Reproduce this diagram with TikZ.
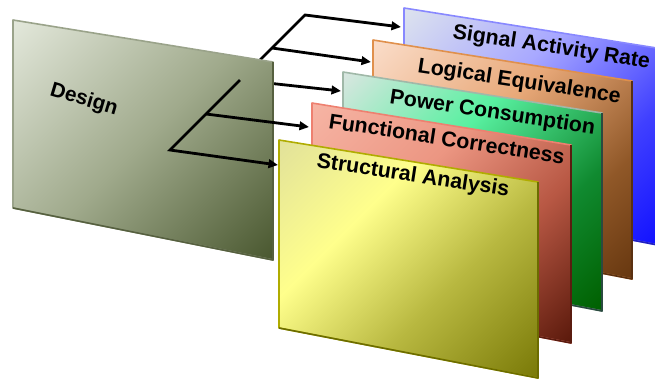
\documentclass[tikz,border=0pt]{standalone}
\usepackage{fontspec}
\setmainfont{Liberation Sans}
\usetikzlibrary{arrows.meta}
% design panel
\definecolor{dD}{HTML}{4A5830}\definecolor{dM}{HTML}{A0AA8C}\definecolor{dL}{HTML}{E2E7DA}
\definecolor{dA}{HTML}{9AA38A}\definecolor{dB}{HTML}{56603F}
% yellow
\definecolor{yD}{HTML}{7A7A08}\definecolor{yM}{HTML}{B8B840}\definecolor{yH}{HTML}{FFFF8C}\definecolor{yL}{HTML}{E2E29A}
\definecolor{yA}{HTML}{B0AC00}\definecolor{yB}{HTML}{6C6C00}
% red
\definecolor{rD}{HTML}{5C1A0C}\definecolor{rM}{HTML}{B85844}\definecolor{rH}{HTML}{EC9682}\definecolor{rL}{HTML}{F6B4A4}
\definecolor{rA}{HTML}{EE8070}\definecolor{rB}{HTML}{5A1C10}
% green
\definecolor{gD}{HTML}{006000}\definecolor{gM}{HTML}{108A30}\definecolor{gH}{HTML}{58F0A0}\definecolor{gL}{HTML}{D8E6E0}
\definecolor{gA}{HTML}{A0B8A8}\definecolor{gB}{HTML}{2A4A40}
% orange
\definecolor{oD}{HTML}{683810}\definecolor{oM}{HTML}{905828}\definecolor{oH}{HTML}{E8A878}\definecolor{oL}{HTML}{FADCC8}
\definecolor{oA}{HTML}{E0904C}\definecolor{oB}{HTML}{5A3010}
% blue
\definecolor{bD}{HTML}{1010FF}\definecolor{bM}{HTML}{4040FF}\definecolor{bH}{HTML}{A8A8FF}\definecolor{bL}{HTML}{DCE2EE}
\definecolor{bA}{HTML}{8888FF}\definecolor{bB}{HTML}{2020C0}

\pgfdeclareverticalshading{dshade}{100bp}{color(0bp)=(dD); color(15bp)=(dD); color(50bp)=(dM); color(85bp)=(dL); color(100bp)=(dL)}
\pgfdeclareverticalshading{yshade}{100bp}{color(0bp)=(yD); color(15bp)=(yD); color(40bp)=(yM); color(63bp)=(yH); color(85bp)=(yL); color(100bp)=(yL)}
\pgfdeclareverticalshading{rshade}{100bp}{color(0bp)=(rD); color(15bp)=(rD); color(38bp)=(rM); color(60bp)=(rH); color(85bp)=(rL); color(100bp)=(rL)}
\pgfdeclareverticalshading{gshade}{100bp}{color(0bp)=(gD); color(15bp)=(gD); color(35bp)=(gM); color(60bp)=(gH); color(85bp)=(gL); color(100bp)=(gL)}
\pgfdeclareverticalshading{oshade}{100bp}{color(0bp)=(oD); color(15bp)=(oD); color(32bp)=(oM); color(57bp)=(oH); color(85bp)=(oL); color(100bp)=(oL)}
\pgfdeclareverticalshading{bshade}{100bp}{color(0bp)=(bD); color(15bp)=(bD); color(35bp)=(bM); color(60bp)=(bH); color(85bp)=(bL); color(100bp)=(bL)}

\begin{document}
\begin{tikzpicture}[x=1pt,y=-1pt,
  edge/.style={line width=1.6pt, line join=round},
  link/.style={line width=2.8pt, black, line join=miter},
  linkarrow/.style={link, -{Triangle[length=9.5pt,width=8.5pt]}},
  lbl/.style={font=\fontsize{21.3}{24}\selectfont\bfseries, anchor=base west, rotate=-8.7, inner sep=0pt}
]
\useasboundingbox (0,0) rectangle (655,381);
\begin{scope}
\clip (0,0) rectangle (655,381);

% ---------- panels, back to front ----------
\coordinate (bTL) at (404,8);
\shade[shading=bshade, shading angle=45, draw=bA, edge] (bTL) -- ++(259,41) coordinate (bTR) -- ++(0,197) coordinate (bBR) -- ++(-259,-50) coordinate (bBL) -- cycle;
\draw[edge, bB] (bTR) -- (bBR) -- (bBL);

\coordinate (oTL) at (373,40);
\shade[shading=oshade, shading angle=45, draw=oA, edge] (oTL) -- ++(259,41) coordinate (oTR) -- ++(0,198) coordinate (oBR) -- ++(-259,-50) coordinate (oBL) -- cycle;
\draw[edge, oB] (oTR) -- (oBR) -- (oBL);

\coordinate (gTL) at (343,72);
\shade[shading=gshade, shading angle=45, draw=gA, edge] (gTL) -- ++(259,41) coordinate (gTR) -- ++(0,198) coordinate (gBR) -- ++(-259,-50) coordinate (gBL) -- cycle;
\draw[edge, gB] (gTR) -- (gBR) -- (gBL);

\coordinate (rTL) at (312,103);
\shade[shading=rshade, shading angle=45, draw=rA, edge] (rTL) -- ++(259,42) coordinate (rTR) -- ++(0,198) coordinate (rBR) -- ++(-259,-50) coordinate (rBL) -- cycle;
\draw[edge, rB] (rTR) -- (rBR) -- (rBL);

\coordinate (yTL) at (279,140);
\shade[shading=yshade, shading angle=45, draw=yA, edge] (yTL) -- ++(259,42) coordinate (yTR) -- ++(0,196) coordinate (yBR) -- ++(-259,-50) coordinate (yBL) -- cycle;
\draw[edge, yB] (yTR) -- (yBR) -- (yBL);

% ---------- tree: upper part (behind the design panel) ----------
\coordinate (tBot) at (170,150);
\coordinate (brR)  at (206,114);
\coordinate (brG)  at (240,80);
\coordinate (brO)  at (272,48);
\coordinate (tTop) at (305,15);
\coordinate (tipY) at (278,165);
\coordinate (tipR) at (309,127);
\coordinate (tipG) at (341,91);
\coordinate (tipO) at (371,62);
\coordinate (tipB) at (401,27);

\draw[linkarrow] (brG) -- (tTop) -- (tipB);
\draw[linkarrow] (brO) -- (tipO);
\draw[linkarrow] (brG) -- (tipG);

% ---------- design panel ----------
\coordinate (dTL) at (13,20);
\shade[shading=dshade, shading angle=45, draw=dA, edge] (dTL) -- ++(260,42) coordinate (dTR) -- ++(0,198) coordinate (dBR) -- ++(-260,-52) coordinate (dBL) -- cycle;
\draw[edge, dB] (dTR) -- (dBR) -- (dBL);

% ---------- tree: lower part (in front) ----------
\draw[linkarrow] (brG) -- (tBot) -- (tipY);
\draw[linkarrow] (brR) -- (tipR);

% ---------- labels ----------
\node[lbl, font=\fontsize{20.8}{24}\selectfont\bfseries, rotate=-8] (tDesign) at (49,95) {Design};
\node[lbl] (tSig)  at (452,38)  {Signal Activity Rate};
\node[lbl] (tLog)  at (417,72)  {Logical Equivalence};
\node[lbl] (tPow)  at (389,103) {Power Consumption};
\node[lbl] (tFun)  at (328,128) {Functional Correctness};
\node[lbl] (tStr)  at (316,167) {Structural Analysis};
\end{scope}
\end{tikzpicture}
\end{document}
